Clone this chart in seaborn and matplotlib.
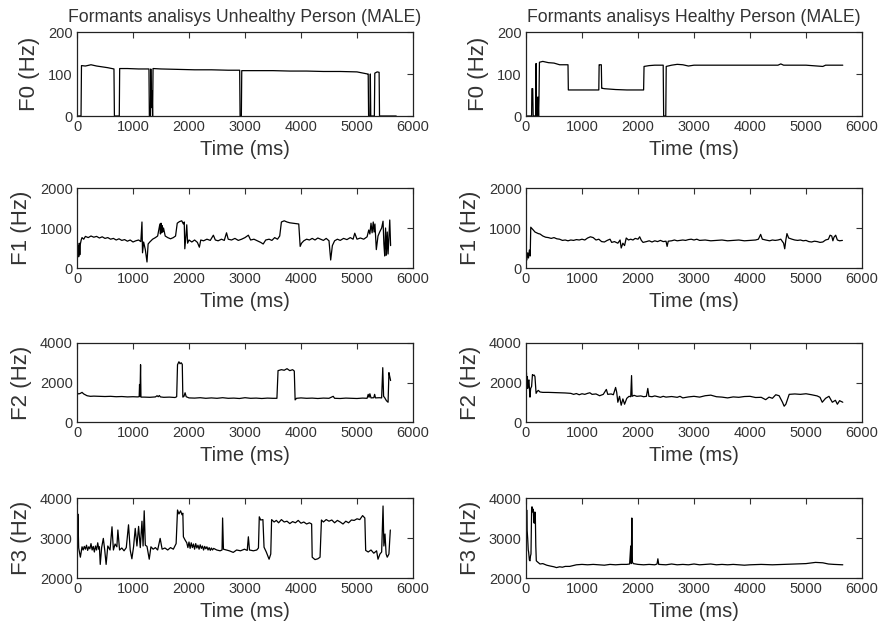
import matplotlib
matplotlib.use("Agg")
import matplotlib.pyplot as plt
import seaborn as sns
import pandas as pd

# ---------------------------------------------------------------- data
# (time in ms, frequency in Hz) pairs for each formant track

f0_unhealthy = [(0, 0), (72, 0), (80, 120), (150, 119), (250, 122), (350, 119), (450, 117),
                (550, 115), (660, 112), (668, 0), (755, 0), (762, 113), (900, 113), (1100, 112),
                (1285, 112), (1292, 0), (1312, 0), (1318, 112), (1326, 45), (1334, 20),
                (1342, 60), (1350, 0), (1358, 113), (1500, 112), (1800, 111), (2100, 110),
                (2400, 110), (2700, 109), (2905, 109), (2912, 0), (2935, 0), (2942, 108),
                (3200, 108), (3500, 108), (3800, 107), (4100, 107), (4400, 106), (4700, 106),
                (5000, 105), (5190, 100), (5200, 100), (5207, 0), (5232, 0), (5238, 100),
                (5246, 0), (5310, 0), (5318, 102), (5360, 105), (5395, 104), (5402, 0), (5700, 0)]

f0_healthy = [(0, 0), (100, 0), (105, 65), (120, 65), (128, 0), (172, 0), (180, 125), (188, 0),
              (196, 45), (205, 0), (215, 45), (225, 0), (232, 43), (240, 128), (300, 130),
              (400, 127), (500, 126), (600, 122), (700, 122), (750, 122), (756, 62), (900, 62),
              (1100, 62), (1300, 62), (1306, 122), (1312, 122), (1345, 122), (1352, 66),
              (1360, 66), (1400, 65), (1600, 63), (1800, 62), (2000, 62), (2100, 62),
              (2108, 118), (2200, 120), (2300, 121), (2450, 121), (2458, 0), (2496, 0),
              (2504, 118), (2600, 121), (2700, 123), (2800, 122), (2900, 119), (3000, 121),
              (3500, 121), (4000, 121), (4500, 121), (4550, 124), (4600, 121), (5000, 121),
              (5300, 118), (5350, 121), (5657, 121)]

f1_unhealthy = [(0, 600), (10, 300), (20, 550), (30, 280), (40, 620), (50, 330), (60, 600),
                (75, 700), (90, 760), (120, 720), (150, 790), (200, 760), (250, 800), (300, 770),
                (350, 790), (400, 750), (450, 780), (500, 740), (550, 760), (600, 720),
                (650, 740), (700, 700), (750, 730), (800, 690), (850, 710), (900, 670),
                (950, 700), (1000, 650), (1050, 680), (1100, 700), (1140, 660), (1160, 1150),
                (1170, 380), (1190, 650), (1220, 460), (1250, 150), (1270, 600), (1300, 650),
                (1350, 720), (1400, 760), (1440, 800), (1480, 1100), (1490, 850), (1500, 1120),
                (1510, 880), (1520, 1060), (1530, 900), (1545, 1000), (1575, 800), (1620, 760),
                (1670, 730), (1720, 760), (1760, 800), (1790, 1120), (1830, 1160), (1870, 1180),
                (1900, 1100), (1915, 1150), (1925, 480), (1945, 800), (1960, 1080), (1975, 620),
                (2000, 700), (2050, 650), (2100, 700), (2150, 640), (2185, 520), (2210, 700),
                (2260, 680), (2320, 720), (2380, 690), (2435, 820), (2470, 700), (2520, 680),
                (2580, 720), (2630, 690), (2670, 880), (2700, 720), (2760, 700), (2820, 740),
                (2880, 690), (2940, 720), (3000, 760), (3060, 820), (3100, 700), (3160, 720),
                (3220, 680), (3280, 640), (3325, 600), (3370, 700), (3430, 720), (3480, 690),
                (3530, 760), (3580, 720), (3620, 800), (3650, 1150), (3700, 1180), (3750, 1150),
                (3800, 1130), (3850, 1120), (3900, 1110), (3960, 1100), (3985, 540), (4010, 620),
                (4050, 680), (4100, 720), (4150, 700), (4200, 740), (4250, 700), (4300, 750),
                (4350, 720), (4400, 690), (4450, 740), (4500, 680), (4530, 200), (4560, 560),
                (4600, 680), (4650, 720), (4700, 690), (4760, 740), (4820, 710), (4880, 760),
                (4930, 720), (4960, 870), (5000, 720), (5060, 750), (5120, 720), (5180, 780),
                (5210, 950), (5230, 850), (5250, 1120), (5270, 880), (5290, 1150), (5305, 900),
                (5320, 1100), (5345, 460), (5375, 800), (5405, 900), (5440, 1000), (5465, 1170),
                (5480, 600), (5495, 300), (5510, 1000), (5525, 320), (5540, 900), (5555, 350),
                (5585, 1200), (5600, 560)]

f1_healthy = [(0, 300), (15, 200), (30, 380), (45, 250), (60, 450), (75, 300), (85, 1020),
              (110, 980), (130, 950), (160, 900), (190, 880), (220, 860), (250, 850), (300, 800),
              (350, 770), (400, 760), (450, 740), (500, 760), (550, 730), (600, 720), (650, 690),
              (700, 700), (750, 680), (800, 700), (850, 690), (900, 710), (950, 700), (1000, 720),
              (1050, 700), (1100, 750), (1150, 780), (1200, 760), (1250, 700), (1300, 720),
              (1350, 660), (1400, 650), (1450, 690), (1500, 720), (1530, 640), (1580, 660),
              (1640, 620), (1680, 700), (1700, 500), (1730, 620), (1760, 560), (1790, 750),
              (1830, 700), (1870, 720), (1910, 700), (1950, 740), (2000, 720), (2030, 780),
              (2060, 690), (2090, 640), (2150, 660), (2200, 680), (2250, 650), (2300, 680),
              (2350, 660), (2400, 690), (2450, 660), (2500, 670), (2520, 540), (2540, 670),
              (2600, 680), (2650, 700), (2700, 680), (2750, 690), (2800, 700), (2850, 690),
              (2900, 710), (2950, 720), (3000, 700), (3050, 720), (3100, 690), (3200, 700),
              (3300, 680), (3400, 690), (3500, 700), (3600, 680), (3700, 690), (3800, 700),
              (3900, 680), (4000, 690), (4100, 700), (4150, 720), (4190, 840), (4220, 720),
              (4280, 700), (4350, 680), (4400, 700), (4450, 690), (4500, 700), (4550, 720),
              (4600, 620), (4620, 480), (4640, 700), (4660, 860), (4690, 750), (4750, 720),
              (4800, 700), (4850, 690), (4900, 700), (4950, 680), (5000, 690), (5050, 660),
              (5100, 650), (5150, 670), (5200, 660), (5250, 640), (5300, 650), (5350, 700),
              (5400, 720), (5430, 820), (5460, 800), (5480, 680), (5500, 770), (5530, 820),
              (5560, 700), (5600, 680), (5650, 690)]

f2_unhealthy = [(0, 1480), (30, 1420), (60, 1450), (90, 1500), (120, 1420), (180, 1330),
                (240, 1300), (300, 1310), (400, 1300), (500, 1290), (600, 1300), (700, 1280),
                (800, 1290), (900, 1270), (1000, 1280), (1080, 1270), (1110, 1280), (1117, 1900),
                (1125, 1300), (1135, 2900), (1142, 1260), (1200, 1260), (1300, 1250),
                (1400, 1270), (1430, 1330), (1450, 1280), (1470, 1340), (1490, 1270),
                (1550, 1250), (1650, 1260), (1750, 1240), (1780, 1280), (1795, 2900),
                (1820, 3050), (1840, 2950), (1860, 3000), (1880, 2920), (1890, 1260),
                (1910, 1300), (1930, 1480), (1950, 1280), (2000, 1220), (2100, 1210),
                (2200, 1230), (2300, 1200), (2400, 1220), (2500, 1200), (2600, 1230),
                (2700, 1200), (2800, 1210), (2900, 1190), (3000, 1230), (3100, 1200),
                (3200, 1210), (3300, 1190), (3400, 1210), (3500, 1200), (3570, 1200),
                (3590, 2600), (3650, 2650), (3700, 2620), (3750, 2700), (3800, 2600),
                (3850, 2650), (3880, 2580), (3895, 1120), (3920, 1200), (4000, 1220),
                (4100, 1200), (4200, 1210), (4300, 1190), (4400, 1210), (4500, 1200),
                (4575, 1300), (4600, 1200), (4700, 1190), (4800, 1210), (4900, 1200),
                (5000, 1190), (5100, 1210), (5180, 1200), (5200, 1400), (5215, 1250),
                (5230, 1430), (5250, 1220), (5300, 1230), (5315, 1400), (5330, 1220),
                (5400, 1230), (5440, 1220), (5460, 2750), (5475, 1300), (5490, 1250),
                (5525, 1080), (5555, 1000), (5570, 2500), (5585, 2300), (5600, 2100)]

f2_healthy = [(0, 2100), (8, 2500), (15, 2000), (25, 2300), (30, 1700), (45, 2100), (53, 2130),
              (65, 1500), (71, 1260), (83, 1700), (100, 1800), (115, 2400), (130, 2350),
              (145, 2380), (160, 2300), (180, 1450), (200, 1550), (220, 1600), (250, 1520),
              (300, 1500), (400, 1500), (500, 1490), (600, 1480), (700, 1470), (800, 1450),
              (850, 1400), (900, 1440), (950, 1380), (1000, 1430), (1050, 1400), (1100, 1450),
              (1140, 1480), (1180, 1400), (1250, 1420), (1315, 1330), (1380, 1400),
              (1435, 1650), (1460, 1400), (1520, 1420), (1560, 1380), (1600, 1750),
              (1620, 1500), (1640, 1000), (1670, 1300), (1700, 850), (1730, 1170), (1760, 900),
              (1800, 1200), (1840, 1300), (1870, 1280), (1885, 2350), (1895, 1300),
              (1930, 1350), (1980, 1300), (2050, 1320), (2100, 1280), (2150, 1300),
              (2175, 1700), (2195, 1300), (2250, 1280), (2300, 1320), (2400, 1250),
              (2450, 1300), (2500, 1260), (2600, 1290), (2700, 1250), (2750, 1300),
              (2800, 1220), (2900, 1270), (3000, 1300), (3100, 1260), (3200, 1330),
              (3300, 1360), (3400, 1280), (3500, 1260), (3600, 1220), (3700, 1270),
              (3800, 1250), (3900, 1290), (4000, 1300), (4100, 1240), (4200, 1250),
              (4280, 1130), (4340, 1260), (4400, 1200), (4460, 1380), (4520, 1330),
              (4580, 1000), (4610, 800), (4640, 900), (4700, 1400), (4800, 1420),
              (4900, 1400), (5000, 1430), (5100, 1380), (5200, 1320), (5250, 1250),
              (5290, 1000), (5350, 1200), (5410, 1300), (5440, 1150), (5470, 1000),
              (5525, 1100), (5560, 900), (5600, 1080), (5657, 1000)]

f3_unhealthy = [(0, 3650), (8, 2800), (15, 3600), (30, 2750), (60, 2520), (90, 2780),
                (110, 2700), (130, 2790), (150, 2720), (170, 2820), (190, 2690), (210, 2780),
                (230, 2730), (250, 2860), (270, 2700), (290, 2790), (310, 2650), (330, 2800),
                (350, 2700), (370, 2880), (390, 2720), (400, 2780), (415, 2340), (440, 2760),
                (470, 2990), (495, 2700), (520, 2340), (550, 2800), (590, 2700), (625, 3280),
                (650, 2700), (680, 2850), (712, 2780), (730, 3200), (760, 2700), (800, 2750),
                (840, 2680), (880, 2760), (920, 3330), (950, 2700), (980, 2480), (1010, 2780),
                (1040, 3240), (1070, 2800), (1100, 3290), (1130, 2760), (1160, 3420),
                (1180, 2800), (1200, 3680), (1220, 2820), (1250, 2790), (1290, 2470),
                (1320, 2780), (1360, 2720), (1400, 2760), (1440, 2700), (1485, 2990),
                (1520, 2720), (1570, 2750), (1620, 2700), (1670, 2760), (1720, 2720),
                (1770, 2860), (1795, 3700), (1820, 3600), (1850, 3680), (1875, 3580),
                (1890, 3620), (1900, 3030), (1930, 2950), (1960, 2880), (1980, 2760),
                (2000, 2900), (2020, 2740), (2040, 2880), (2060, 2760), (2080, 2850),
                (2100, 2720), (2120, 2860), (2140, 2750), (2160, 2820), (2180, 2720),
                (2200, 2830), (2220, 2740), (2240, 2800), (2260, 2700), (2280, 2790),
                (2300, 2730), (2320, 2780), (2340, 2700), (2360, 2760), (2380, 2690),
                (2400, 2750), (2420, 2700), (2440, 2740), (2495, 2700), (2555, 2680),
                (2590, 2700), (2600, 3500), (2615, 2720), (2670, 2700), (2720, 2680),
                (2790, 2640), (2850, 2700), (2920, 2680), (2990, 2720), (3040, 2690),
                (3060, 3030), (3080, 2700), (3150, 2680), (3210, 2700), (3240, 2750),
                (3255, 3530), (3280, 3450), (3320, 3460), (3340, 2770), (3380, 2650),
                (3430, 2470), (3460, 2600), (3475, 3460), (3520, 3400), (3560, 3440),
                (3600, 3380), (3650, 3460), (3700, 3400), (3750, 3420), (3800, 3360),
                (3850, 3410), (3900, 3380), (3950, 3440), (4000, 3370), (4050, 3400),
                (4100, 3350), (4150, 3380), (4190, 3350), (4200, 2520), (4250, 2460),
                (4300, 2480), (4340, 2520), (4365, 3450), (4400, 3400), (4450, 3460),
                (4500, 3420), (4550, 3450), (4600, 3380), (4650, 3440), (4700, 3400),
                (4750, 3350), (4800, 3420), (4850, 3380), (4900, 3450), (4950, 3440),
                (5000, 3480), (5050, 3460), (5100, 3560), (5140, 3500), (5155, 2690),
                (5200, 2650), (5250, 2700), (5300, 2620), (5350, 2680), (5375, 2470),
                (5410, 2600), (5440, 2650), (5465, 3800), (5480, 2800), (5500, 3100),
                (5520, 2600), (5540, 2520), (5570, 2600), (5595, 3200)]

f3_healthy = [(0, 3700), (5, 3000), (12, 3700), (20, 3200), (30, 2990), (40, 2700), (47, 2650),
              (60, 2450), (71, 2430), (80, 2550), (89, 2600), (100, 3700), (107, 3780),
              (120, 3650), (130, 3720), (140, 3400), (148, 3370), (158, 3650), (166, 3630),
              (175, 2800), (184, 2430), (207, 2400), (250, 2350), (300, 2360), (370, 2320),
              (430, 2300), (500, 2280), (545, 2260), (600, 2280), (650, 2270), (700, 2290),
              (780, 2290), (840, 2310), (900, 2330), (1000, 2340), (1100, 2330), (1200, 2340),
              (1300, 2330), (1400, 2320), (1500, 2340), (1600, 2330), (1700, 2340),
              (1800, 2340), (1850, 2350), (1870, 2800), (1880, 2360), (1890, 3500),
              (1900, 2400), (1915, 2360), (2000, 2340), (2100, 2330), (2200, 2340),
              (2300, 2330), (2340, 2350), (2355, 2480), (2370, 2340), (2500, 2330),
              (2600, 2350), (2700, 2330), (2800, 2340), (2900, 2330), (3000, 2350),
              (3100, 2330), (3200, 2340), (3300, 2350), (3400, 2330), (3500, 2340),
              (3600, 2330), (3700, 2340), (3800, 2330), (3900, 2320), (4000, 2330),
              (4200, 2340), (4400, 2330), (4600, 2340), (4800, 2350), (5000, 2360),
              (5170, 2390), (5300, 2380), (5400, 2350), (5500, 2340), (5657, 2330)]

column_titles = ["Formants analisys Unhealthy Person (MALE)",
                 "Formants analisys Healthy Person (MALE)"]
row_labels = ["F0 (Hz)", "F1 (Hz)", "F2 (Hz)", "F3 (Hz)"]
y_ranges = [(0, 200), (0, 2000), (0, 4000), (2000, 4000)]
x_ticks = [0, 1000, 2000, 3000, 4000, 5000, 6000]

tracks = [[f0_unhealthy, f0_healthy],
          [f1_unhealthy, f1_healthy],
          [f2_unhealthy, f2_healthy],
          [f3_unhealthy, f3_healthy]]

# ---------------------------------------------------------------- style
sns.set_theme(style="white")
plt.rcParams["font.family"] = ["Liberation Sans", "DejaVu Sans"]
ink = "#333333"

W, H = 883, 626
fig = plt.figure(figsize=(W / 100, H / 100), dpi=100)
fig.patch.set_facecolor("white")


def frame(left, top, right, bottom):
    return [left / W, 1 - bottom / H, (right - left) / W, (bottom - top) / H]


col_px = [(77, 413), (526, 862)]
row_px = [(32, 116), (188, 268), (343, 422), (498, 578)]

for r, (top, bottom) in enumerate(row_px):
    for c, (left, right) in enumerate(col_px):
        ax = fig.add_axes(frame(left, top, right, bottom))
        df = pd.DataFrame(tracks[r][c], columns=["time", "freq"])
        sns.lineplot(data=df, x="time", y="freq", ax=ax, estimator=None, sort=False,
                     color="black", linewidth=0.9)
        lo, hi = y_ranges[r]
        ax.set_xlim(0, 6000)
        ax.set_ylim(lo, hi)
        ax.set_xticks(x_ticks)
        ax.set_yticks([lo, (lo + hi) / 2, hi])
        ax.set_xticklabels([str(v) for v in x_ticks])
        ax.set_yticklabels([str(int(v)) for v in (lo, (lo + hi) / 2, hi)])
        ax.tick_params(direction="in", length=4, width=0.8, top=True, right=True,
                       labelsize=10.5, colors=ink, pad=3)
        for lab in ax.get_xticklabels() + ax.get_yticklabels():
            lab.set_color(ink)
        for sp in ax.spines.values():
            sp.set_color("#222222")
            sp.set_linewidth(0.9)
        ax.set_xlabel("Time (ms)", fontsize=14.5, color=ink, labelpad=4)
        ax.set_ylabel(row_labels[r], fontsize=16, color=ink, labelpad=6)
        if r == 0:
            ax.set_title(column_titles[c], fontsize=12.7, color=ink, pad=7)

fig.savefig("out.png", dpi=100, facecolor="white")
